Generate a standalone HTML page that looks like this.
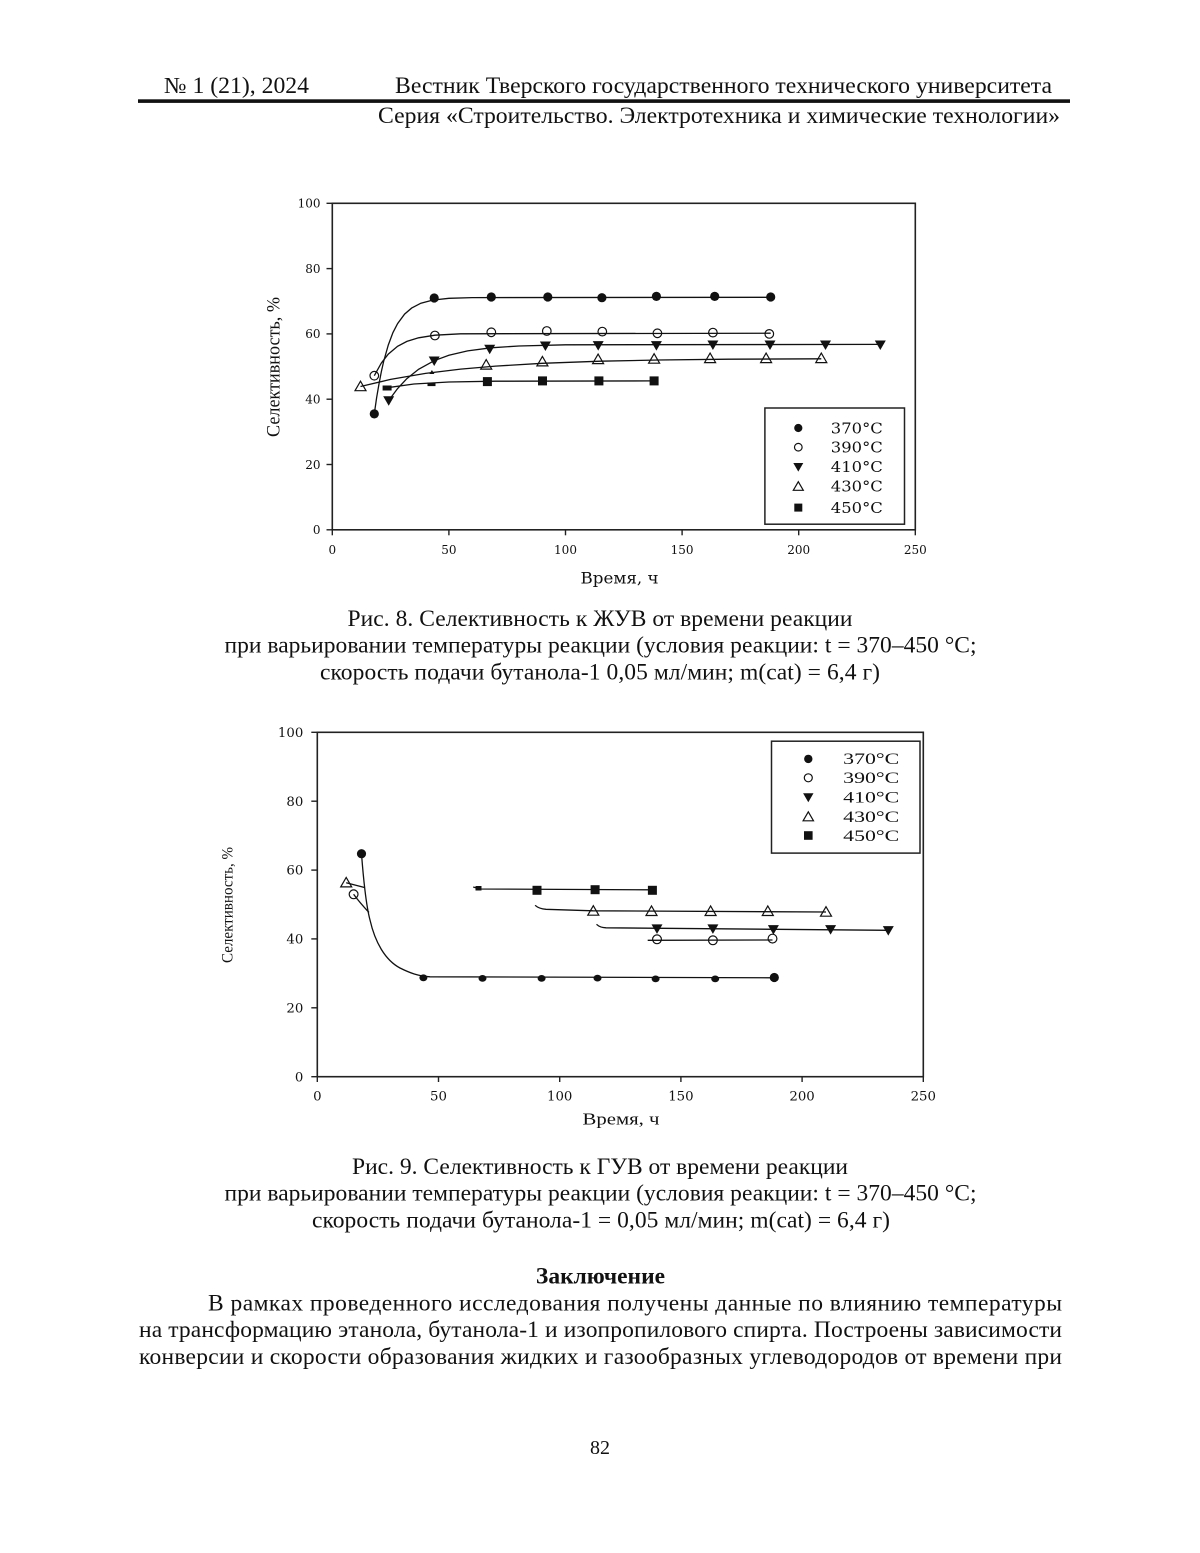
<!DOCTYPE html>
<html lang="ru">
<head>
<meta charset="utf-8">
<title>Селективность</title>
<style>
html,body{margin:0;padding:0;background:#fff;}
svg{display:block;}
.t{font-family:"Liberation Serif","DejaVu Serif",serif;fill:#111;}
.d{font-family:"DejaVu Serif","Liberation Serif",serif;fill:#111;}
.ax{fill:none;stroke:#222;stroke-width:1.6;}
.cv{fill:none;stroke:#111;stroke-width:1.3;}
.f{fill:#111;stroke:none;}
.o{fill:none;stroke:#111;stroke-width:1.2;}
</style>
</head>
<body>
<svg width="1200" height="1553" viewBox="0 0 1200 1553" xmlns="http://www.w3.org/2000/svg">
<rect x="0" y="0" width="1200" height="1553" fill="#fff"/>

<!-- Header -->
<text class="t" x="164" y="93" font-size="23" textLength="145" lengthAdjust="spacingAndGlyphs">№ 1 (21), 2024</text>
<text class="t" x="395" y="93" font-size="23" textLength="657" lengthAdjust="spacingAndGlyphs">Вестник Тверского государственного технического университета</text>
<rect x="138" y="99.3" width="932" height="3.6" fill="#111"/>
<text class="t" x="378" y="123" font-size="23" textLength="682" lengthAdjust="spacingAndGlyphs">Серия «Строительство. Электротехника и химические технологии»</text>

<!-- ================= Chart 1 ================= -->
<rect class="ax" x="332.3" y="203.3" width="583" height="326.5"/>
<g stroke="#222" stroke-width="1.4">
<line x1="326.5" y1="529.8" x2="332.3" y2="529.8"/>
<line x1="326.5" y1="464.5" x2="332.3" y2="464.5"/>
<line x1="326.5" y1="399.2" x2="332.3" y2="399.2"/>
<line x1="326.5" y1="333.9" x2="332.3" y2="333.9"/>
<line x1="326.5" y1="268.6" x2="332.3" y2="268.6"/>
<line x1="326.5" y1="203.3" x2="332.3" y2="203.3"/>
<line x1="332.3" y1="529.8" x2="332.3" y2="535.3"/>
<line x1="448.9" y1="529.8" x2="448.9" y2="535.3"/>
<line x1="565.5" y1="529.8" x2="565.5" y2="535.3"/>
<line x1="682.1" y1="529.8" x2="682.1" y2="535.3"/>
<line x1="798.7" y1="529.8" x2="798.7" y2="535.3"/>
<line x1="915.3" y1="529.8" x2="915.3" y2="535.3"/>
</g>
<g class="d" font-size="12" text-anchor="end">
<text x="320.5" y="534.1">0</text>
<text x="320.5" y="468.8">20</text>
<text x="320.5" y="403.5">40</text>
<text x="320.5" y="338.2">60</text>
<text x="320.5" y="272.9">80</text>
<text x="320.5" y="207.6">100</text>
</g>
<g class="d" font-size="12" text-anchor="middle">
<text x="332.3" y="554">0</text>
<text x="448.9" y="554">50</text>
<text x="565.5" y="554">100</text>
<text x="682.1" y="554">150</text>
<text x="798.7" y="554">200</text>
<text x="915.3" y="554">250</text>
</g>
<text class="d" x="580.5" y="583.3" font-size="16" textLength="78" lengthAdjust="spacingAndGlyphs">Время, ч</text>
<text class="t" transform="translate(279.5,437) rotate(-90)" x="0" y="0" font-size="19" textLength="140" lengthAdjust="spacingAndGlyphs">Селективность, %</text>

<!-- curves chart 1 -->
<polyline class="cv" points="374.3,413.9 376.6,397.8 379.0,383.9 381.3,371.9 383.6,361.6 388.3,345.0 392.9,332.7 397.6,323.6 404.6,314.1 411.6,308.1 420.9,303.2 432.6,300.1 448.9,298.3 472.2,297.6 770.7,297.3"/>
<polyline class="cv" points="374.3,375.7 381.3,363.1 388.3,354.1 397.6,346.3 406.9,341.4 418.6,337.8 434.9,335.2 460.6,333.8 770.7,333.2"/>
<polyline class="cv" points="388.7,400.5 397.6,388.5 406.9,378.6 418.6,369.3 434.2,360.7 448.9,355.3 467.6,350.9 490.9,347.8 518.9,346.0 565.5,344.8 880.3,344.4"/>
<polyline class="cv" points="360.5,386.5 390.6,379.4 425.6,373.4 460.6,369.1 495.5,366.1 542.2,363.3 600.5,361.2 658.8,360.0 728.7,359.2 821.3,358.8"/>
<polyline class="cv" points="386.6,387.8 413.9,384.0 448.9,382.0 495.5,381.2 654.1,380.9"/>

<!-- markers chart 1: 370 -->
<g class="f">
<circle cx="374.3" cy="413.9" r="4.6"/>
<circle cx="434.2" cy="298.0" r="4.6"/>
<circle cx="491.3" cy="297.0" r="4.6"/>
<circle cx="547.8" cy="297.0" r="4.6"/>
<circle cx="601.9" cy="297.7" r="4.6"/>
<circle cx="656.4" cy="296.4" r="4.6"/>
<circle cx="714.7" cy="296.4" r="4.6"/>
<circle cx="770.7" cy="297.0" r="4.6"/>
</g>
<!-- 390 -->
<g class="o">
<circle cx="374.3" cy="375.7" r="4.3"/>
<circle cx="434.9" cy="335.5" r="4.3"/>
<circle cx="491.3" cy="332.3" r="4.3"/>
<circle cx="546.8" cy="331.0" r="4.3"/>
<circle cx="602.3" cy="331.6" r="4.3"/>
<circle cx="657.4" cy="333.3" r="4.3"/>
<circle cx="712.9" cy="332.6" r="4.3"/>
<circle cx="769.3" cy="333.9" r="4.3"/>
</g>
<!-- 410 -->
<g class="f">
<path d="M383.2,396.3h11l-5.5,9.5z"/>
<path d="M428.7,356.5h11l-5.5,9.5z"/>
<path d="M484.2,344.7h11l-5.5,9.5z"/>
<path d="M539.9,341.5h11l-5.5,9.5z"/>
<path d="M592.7,341.1h11l-5.5,9.5z"/>
<path d="M650.9,341.1h11l-5.5,9.5z"/>
<path d="M707.4,340.5h11l-5.5,9.5z"/>
<path d="M764.5,340.5h11l-5.5,9.5z"/>
<path d="M820.0,340.5h11l-5.5,9.5z"/>
<path d="M874.8,340.5h11l-5.5,9.5z"/>
</g>
<!-- 430 -->
<g class="o">
<path d="M355.0,390.7h11l-5.5,-9.5z"/>
<path d="M480.7,369.1h11l-5.5,-9.5z"/>
<path d="M536.9,365.9h11l-5.5,-9.5z"/>
<path d="M592.6,363.6h11l-5.5,-9.5z"/>
<path d="M648.6,363.2h11l-5.5,-9.5z"/>
<path d="M704.6,362.6h11l-5.5,-9.5z"/>
<path d="M760.6,362.6h11l-5.5,-9.5z"/>
<path d="M815.8,362.6h11l-5.5,-9.5z"/>
</g>
<path class="f" d="M429.4,374h5l-2.5,-4z"/>
<!-- 450 -->
<g class="f">
<rect x="382.6" y="385.5" width="9" height="5"/>
<rect x="427.5" y="382.5" width="8" height="3.6"/>
<rect x="482.9" y="377.1" width="9" height="9"/>
<rect x="538.0" y="376.4" width="9" height="9"/>
<rect x="594.4" y="376.4" width="9" height="9"/>
<rect x="649.6" y="376.4" width="9" height="9"/>
</g>

<!-- legend chart 1 -->
<rect x="764.9" y="408" width="139.6" height="116.2" fill="#fff" stroke="#222" stroke-width="1.5"/>
<circle class="f" cx="798.3" cy="428" r="4.1"/>
<circle class="o" cx="798.3" cy="447.2" r="3.8"/>
<path class="f" d="M793.3,463.0h10l-5,8.6z"/>
<path class="o" d="M793.3,490.3h10l-5,-8.6z"/>
<rect class="f" x="794.3" y="503.6" width="8" height="8"/>
<g class="d" font-size="15">
<text x="830.8" y="433.3" textLength="52" lengthAdjust="spacingAndGlyphs">370°C</text>
<text x="830.8" y="452.5" textLength="52" lengthAdjust="spacingAndGlyphs">390°C</text>
<text x="830.8" y="472.1" textLength="52" lengthAdjust="spacingAndGlyphs">410°C</text>
<text x="830.8" y="491.6" textLength="52" lengthAdjust="spacingAndGlyphs">430°C</text>
<text x="830.8" y="512.9" textLength="52" lengthAdjust="spacingAndGlyphs">450°C</text>
</g>

<!-- caption 1 -->
<g class="t" font-size="23.5">
<text x="347.5" y="626" textLength="505" lengthAdjust="spacing">Рис. 8. Селективность к ЖУВ от времени реакции</text>
<text x="224.5" y="652.7" textLength="752" lengthAdjust="spacing">при варьировании температуры реакции (условия реакции: t = 370–450 °С;</text>
<text x="320" y="679.4" textLength="560" lengthAdjust="spacing">скорость подачи бутанола-1 0,05 мл/мин; m(cat) = 6,4 г)</text>
</g>

<!-- ================= Chart 2 ================= -->
<rect class="ax" x="317.3" y="732.3" width="606" height="344.4"/>
<g stroke="#222" stroke-width="1.4">
<line x1="311.3" y1="1076.7" x2="317.3" y2="1076.7"/>
<line x1="311.3" y1="1007.8" x2="317.3" y2="1007.8"/>
<line x1="311.3" y1="938.9" x2="317.3" y2="938.9"/>
<line x1="311.3" y1="870.1" x2="317.3" y2="870.1"/>
<line x1="311.3" y1="801.2" x2="317.3" y2="801.2"/>
<line x1="311.3" y1="732.3" x2="317.3" y2="732.3"/>
<line x1="317.3" y1="1076.7" x2="317.3" y2="1082"/>
<line x1="438.5" y1="1076.7" x2="438.5" y2="1082"/>
<line x1="559.7" y1="1076.7" x2="559.7" y2="1082"/>
<line x1="680.9" y1="1076.7" x2="680.9" y2="1082"/>
<line x1="802.1" y1="1076.7" x2="802.1" y2="1082"/>
<line x1="923.3" y1="1076.7" x2="923.3" y2="1082"/>
</g>
<g class="d" font-size="13.3" text-anchor="end">
<text x="303.3" y="1081.3">0</text>
<text x="303.3" y="1012.4">20</text>
<text x="303.3" y="943.5">40</text>
<text x="303.3" y="874.7">60</text>
<text x="303.3" y="805.8">80</text>
<text x="303.3" y="736.9">100</text>
</g>
<g class="d" font-size="13.3" text-anchor="middle">
<text x="317.3" y="1100.7">0</text>
<text x="438.5" y="1100.7">50</text>
<text x="559.7" y="1100.7">100</text>
<text x="680.9" y="1100.7">150</text>
<text x="802.1" y="1100.7">200</text>
<text x="923.3" y="1100.7">250</text>
</g>
<text class="t" x="582.5" y="1124.5" font-size="17" textLength="77" lengthAdjust="spacingAndGlyphs">Время, ч</text>
<text class="t" transform="translate(232.5,963) rotate(-90)" x="0" y="0" font-size="15.5" textLength="116" lengthAdjust="spacingAndGlyphs">Селективность, %</text>

<!-- curves chart 2 -->
<path class="cv" d="M361.5,853.7 C363.5,880 366,905 370,920 C375,942 385,960 400,968 C410,973 418,976 430,976.8 L774.3,977.8"/>
<path class="cv" d="M353.6,894.3 Q360,903 369,912.5"/>
<path class="cv" d="M346.2,882.7 L364.5,887.5"/>
<path class="cv" d="M596.5,924.3 Q600,927.6 606,927.8 L888.3,930.3"/>
<path class="cv" d="M535.1,905.3 Q539,908.8 546,909.3 L593,910.8 L826,912"/>
<path class="cv" d="M473.2,887 L480,889 L652.4,889.8"/>
<path class="cv" d="M647.7,940.3 L772.5,940"/>

<!-- markers chart 2 -->
<g class="f">
<circle cx="361.5" cy="853.7" r="4.6"/>
<ellipse cx="423.4" cy="977.8" rx="4" ry="3.4"/>
<ellipse cx="482.5" cy="978.4" rx="4" ry="3.4"/>
<ellipse cx="541.6" cy="978.4" rx="4" ry="3.4"/>
<ellipse cx="597.5" cy="978.1" rx="4" ry="3.4"/>
<ellipse cx="655.6" cy="978.9" rx="4" ry="3.4"/>
<ellipse cx="715.2" cy="978.9" rx="4" ry="3.4"/>
<circle cx="774.3" cy="977.5" r="4.6"/>
</g>
<g class="o">
<circle cx="353.6" cy="894.3" r="4.4"/>
<circle cx="657.0" cy="939.3" r="4.4"/>
<circle cx="712.9" cy="940.3" r="4.4"/>
<circle cx="772.5" cy="938.6" r="4.4"/>
</g>
<g class="f">
<path d="M651.5,924.4h11l-5.5,9.5z"/>
<path d="M707.4,924.4h11l-5.5,9.5z"/>
<path d="M767.9,925.1h11l-5.5,9.5z"/>
<path d="M825.1,925.1h11l-5.5,9.5z"/>
<path d="M882.8,926.1h11l-5.5,9.5z"/>
</g>
<g class="o">
<path d="M340.7,886.9h11l-5.5,-9.5z"/>
<path d="M587.8,915.2h11l-5.5,-9.5z"/>
<path d="M646.0,915.5h11l-5.5,-9.5z"/>
<path d="M705.1,915.5h11l-5.5,-9.5z"/>
<path d="M762.3,915.5h11l-5.5,-9.5z"/>
<path d="M820.5,916.2h11l-5.5,-9.5z"/>
</g>
<g class="f">
<rect x="475.5" y="886" width="6" height="4.5"/>
<rect x="532.5" y="885.8" width="9" height="9"/>
<rect x="590.6" y="885.2" width="9" height="9"/>
<rect x="647.9" y="885.8" width="9" height="9"/>
</g>

<!-- legend chart 2 -->
<rect x="771.5" y="741.2" width="148.5" height="111.9" fill="#fff" stroke="#222" stroke-width="1.5"/>
<circle class="f" cx="808.3" cy="758.9" r="4.2"/>
<circle class="o" cx="808.3" cy="777.8" r="4"/>
<path class="f" d="M803.1,793.2h10.4l-5.2,9z"/>
<path class="o" d="M803.1,820.8h10.4l-5.2,-9z"/>
<rect class="f" x="804" y="831.2" width="8.6" height="8.6"/>
<g class="t" font-size="16">
<text x="843.2" y="764.2" textLength="56" lengthAdjust="spacingAndGlyphs">370°C</text>
<text x="843.2" y="783.1" textLength="56" lengthAdjust="spacingAndGlyphs">390°C</text>
<text x="843.2" y="802.5" textLength="56" lengthAdjust="spacingAndGlyphs">410°C</text>
<text x="843.2" y="821.8" textLength="56" lengthAdjust="spacingAndGlyphs">430°C</text>
<text x="843.2" y="840.8" textLength="56" lengthAdjust="spacingAndGlyphs">450°C</text>
</g>

<!-- caption 2 -->
<g class="t" font-size="23.5">
<text x="352" y="1174" textLength="496" lengthAdjust="spacing">Рис. 9. Селективность к ГУВ от времени реакции</text>
<text x="224.5" y="1200.7" textLength="752" lengthAdjust="spacing">при варьировании температуры реакции (условия реакции: t = 370–450 °С;</text>
<text x="312" y="1227.4" textLength="578" lengthAdjust="spacing">скорость подачи бутанола-1 = 0,05 мл/мин; m(cat) = 6,4 г)</text>
</g>

<!-- Conclusion -->
<text class="t" x="600.5" y="1283.5" font-size="23.5" font-weight="bold" text-anchor="middle">Заключение</text>
<g class="t" font-size="23.5">
<text x="208" y="1310.5" textLength="854" lengthAdjust="spacing">В рамках проведенного исследования получены данные по влиянию температуры</text>
<text x="139" y="1337.2" textLength="923" lengthAdjust="spacing">на трансформацию этанола, бутанола-1 и изопропилового спирта. Построены зависимости</text>
<text x="139" y="1363.9" textLength="923" lengthAdjust="spacing">конверсии и скорости образования жидких и газообразных углеводородов от времени при</text>
</g>

<!-- page number -->
<text class="t" x="600" y="1454" font-size="20" text-anchor="middle">82</text>
</svg>
</body>
</html>
